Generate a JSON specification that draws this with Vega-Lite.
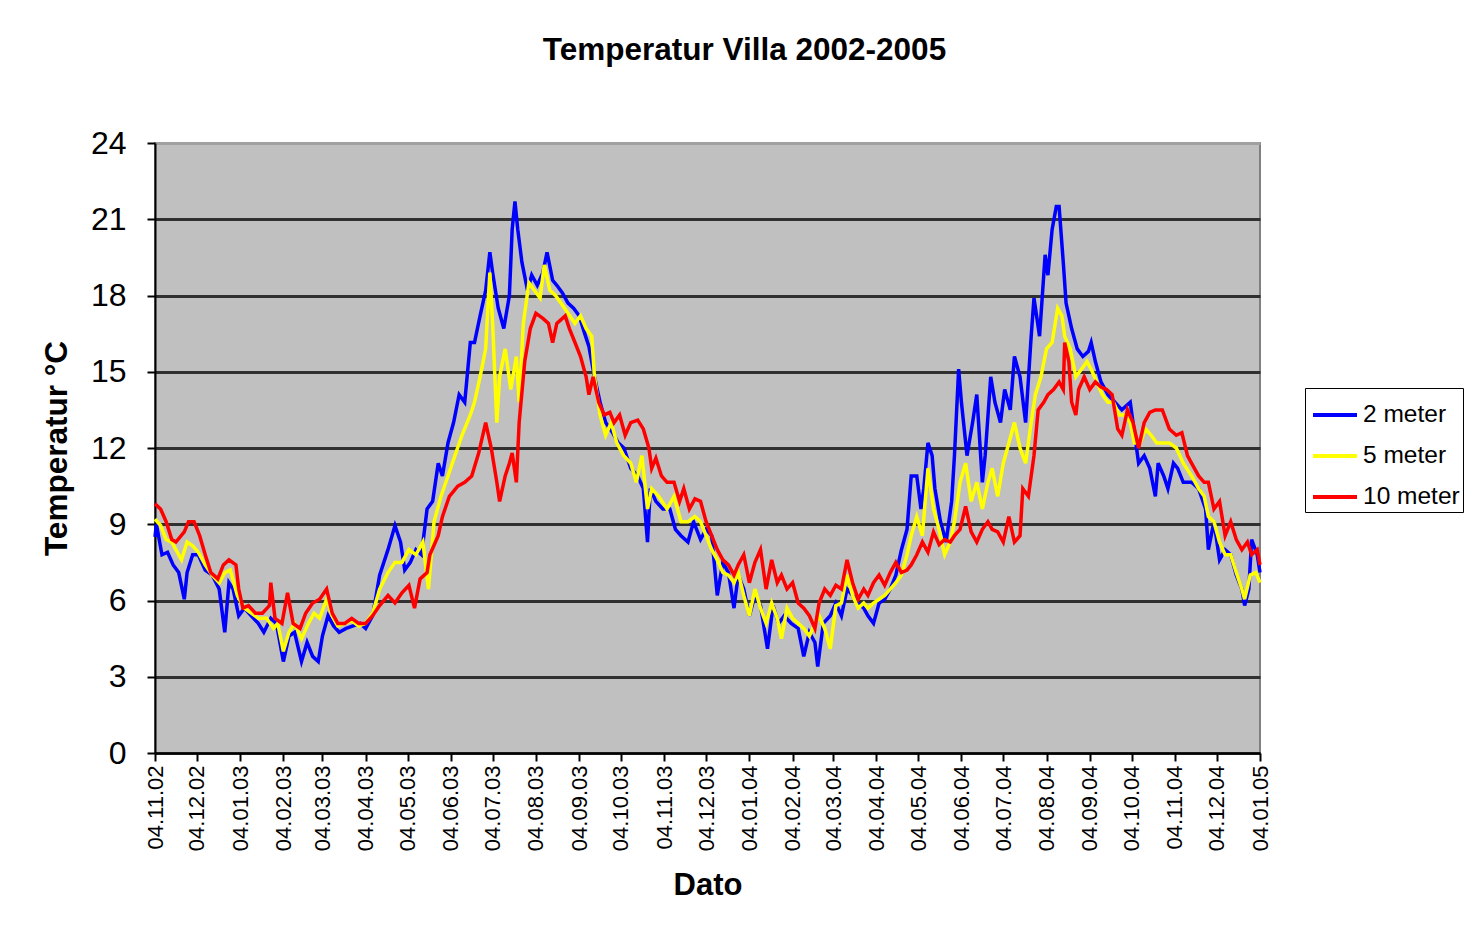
{
"$schema":"https://vega.github.io/schema/vega-lite/v6.json",
"autosize":{"type":"none"},
"width":1105,"height":610,
"padding":{"left":155,"top":143,"right":219,"bottom":180},
"background":"white",
"config":{"font":"Liberation Sans","view":{"fill":"#C0C0C0","stroke":"#808080","strokeWidth":2}},
"title":{"text":"Temperatur Villa 2002-2005","fontSize":31.5,"font":"Liberation Sans","fontWeight":"bold","color":"black","offset":61,"dx":37},
"data":{"values":[
{"d":"2002-11-04","s":"2 meter","t":8.5},{"d":"2002-11-05","s":"2 meter","t":9.0},{"d":"2002-11-09","s":"2 meter","t":7.8},{"d":"2002-11-13","s":"2 meter","t":7.9},{"d":"2002-11-17","s":"2 meter","t":7.4},{"d":"2002-11-21","s":"2 meter","t":7.1},{"d":"2002-11-25","s":"2 meter","t":6.05},{"d":"2002-11-27","s":"2 meter","t":7.1},{"d":"2002-12-01","s":"2 meter","t":7.8},{"d":"2002-12-05","s":"2 meter","t":7.8},{"d":"2002-12-10","s":"2 meter","t":7.2},{"d":"2002-12-15","s":"2 meter","t":7.0},{"d":"2002-12-20","s":"2 meter","t":6.45},{"d":"2002-12-24","s":"2 meter","t":4.75},{"d":"2002-12-27","s":"2 meter","t":6.7},{"d":"2002-12-30","s":"2 meter","t":6.45},
{"d":"2003-01-03","s":"2 meter","t":5.4},{"d":"2003-01-07","s":"2 meter","t":5.7},{"d":"2003-01-12","s":"2 meter","t":5.4},{"d":"2003-01-17","s":"2 meter","t":5.1},{"d":"2003-01-21","s":"2 meter","t":4.75},{"d":"2003-01-26","s":"2 meter","t":5.3},{"d":"2003-01-30","s":"2 meter","t":5.1},{"d":"2003-02-04","s":"2 meter","t":3.6},{"d":"2003-02-08","s":"2 meter","t":4.6},{"d":"2003-02-12","s":"2 meter","t":4.75},{"d":"2003-02-17","s":"2 meter","t":3.6},{"d":"2003-02-21","s":"2 meter","t":4.35},{"d":"2003-02-25","s":"2 meter","t":3.8},{"d":"2003-03-01","s":"2 meter","t":3.6},{"d":"2003-03-04","s":"2 meter","t":4.6},{"d":"2003-03-08","s":"2 meter","t":5.4},{"d":"2003-03-12","s":"2 meter","t":5.0},{"d":"2003-03-16","s":"2 meter","t":4.75},{"d":"2003-03-21","s":"2 meter","t":4.9},{"d":"2003-03-26","s":"2 meter","t":5.0},{"d":"2003-03-31","s":"2 meter","t":5.1},
{"d":"2003-04-04","s":"2 meter","t":4.9},{"d":"2003-04-09","s":"2 meter","t":5.4},{"d":"2003-04-14","s":"2 meter","t":7.0},{"d":"2003-04-20","s":"2 meter","t":8.0},{"d":"2003-04-25","s":"2 meter","t":8.95},{"d":"2003-04-29","s":"2 meter","t":8.3},{"d":"2003-05-02","s":"2 meter","t":7.2},{"d":"2003-05-06","s":"2 meter","t":7.5},{"d":"2003-05-10","s":"2 meter","t":8.0},{"d":"2003-05-14","s":"2 meter","t":7.8},{"d":"2003-05-18","s":"2 meter","t":9.6},{"d":"2003-05-22","s":"2 meter","t":9.9},{"d":"2003-05-26","s":"2 meter","t":11.4},{"d":"2003-05-29","s":"2 meter","t":10.9},{"d":"2003-06-02","s":"2 meter","t":12.2},{"d":"2003-06-06","s":"2 meter","t":13.0},{"d":"2003-06-10","s":"2 meter","t":14.1},{"d":"2003-06-14","s":"2 meter","t":13.8},{"d":"2003-06-18","s":"2 meter","t":16.15},{"d":"2003-06-21","s":"2 meter","t":16.15},{"d":"2003-06-25","s":"2 meter","t":17.2},{"d":"2003-06-29","s":"2 meter","t":18.2},
{"d":"2003-07-02","s":"2 meter","t":19.7},{"d":"2003-07-04","s":"2 meter","t":18.9},{"d":"2003-07-08","s":"2 meter","t":17.5},{"d":"2003-07-12","s":"2 meter","t":16.7},{"d":"2003-07-16","s":"2 meter","t":18.0},{"d":"2003-07-18","s":"2 meter","t":20.6},{"d":"2003-07-20","s":"2 meter","t":21.7},{"d":"2003-07-22","s":"2 meter","t":20.6},{"d":"2003-07-25","s":"2 meter","t":19.3},{"d":"2003-07-29","s":"2 meter","t":18.2},{"d":"2003-08-01","s":"2 meter","t":18.8},{"d":"2003-08-05","s":"2 meter","t":18.4},{"d":"2003-08-09","s":"2 meter","t":18.9},{"d":"2003-08-12","s":"2 meter","t":19.7},{"d":"2003-08-16","s":"2 meter","t":18.6},{"d":"2003-08-19","s":"2 meter","t":18.4},{"d":"2003-08-23","s":"2 meter","t":18.1},{"d":"2003-08-27","s":"2 meter","t":17.7},{"d":"2003-08-31","s":"2 meter","t":17.5},
{"d":"2003-09-04","s":"2 meter","t":17.2},{"d":"2003-09-08","s":"2 meter","t":16.5},{"d":"2003-09-11","s":"2 meter","t":16.0},{"d":"2003-09-15","s":"2 meter","t":14.8},{"d":"2003-09-19","s":"2 meter","t":13.8},{"d":"2003-09-23","s":"2 meter","t":13.0},{"d":"2003-09-28","s":"2 meter","t":12.6},{"d":"2003-10-02","s":"2 meter","t":12.2},{"d":"2003-10-06","s":"2 meter","t":12.0},{"d":"2003-10-11","s":"2 meter","t":11.2},{"d":"2003-10-16","s":"2 meter","t":10.9},{"d":"2003-10-20","s":"2 meter","t":10.4},{"d":"2003-10-23","s":"2 meter","t":8.3},{"d":"2003-10-25","s":"2 meter","t":10.4},{"d":"2003-10-29","s":"2 meter","t":9.9},{"d":"2003-11-03","s":"2 meter","t":9.6},{"d":"2003-11-08","s":"2 meter","t":9.6},{"d":"2003-11-12","s":"2 meter","t":8.8},{"d":"2003-11-16","s":"2 meter","t":8.55},{"d":"2003-11-21","s":"2 meter","t":8.3},{"d":"2003-11-25","s":"2 meter","t":9.1},{"d":"2003-11-30","s":"2 meter","t":8.4},
{"d":"2003-12-04","s":"2 meter","t":8.8},{"d":"2003-12-08","s":"2 meter","t":8.55},{"d":"2003-12-12","s":"2 meter","t":6.2},{"d":"2003-12-16","s":"2 meter","t":7.5},{"d":"2003-12-20","s":"2 meter","t":7.1},{"d":"2003-12-24","s":"2 meter","t":5.7},{"d":"2003-12-27","s":"2 meter","t":7.0},{"d":"2003-12-31","s":"2 meter","t":6.45},{"d":"2004-01-04","s":"2 meter","t":5.4},{"d":"2004-01-08","s":"2 meter","t":6.2},{"d":"2004-01-12","s":"2 meter","t":5.8},{"d":"2004-01-17","s":"2 meter","t":4.1},{"d":"2004-01-21","s":"2 meter","t":5.8},{"d":"2004-01-25","s":"2 meter","t":5.1},{"d":"2004-01-29","s":"2 meter","t":5.4},{"d":"2004-02-03","s":"2 meter","t":5.1},{"d":"2004-02-08","s":"2 meter","t":4.9},{"d":"2004-02-12","s":"2 meter","t":3.8},{"d":"2004-02-16","s":"2 meter","t":4.75},{"d":"2004-02-20","s":"2 meter","t":4.35},{"d":"2004-02-22","s":"2 meter","t":3.4},{"d":"2004-02-26","s":"2 meter","t":5.1},
{"d":"2004-03-02","s":"2 meter","t":5.4},{"d":"2004-03-06","s":"2 meter","t":5.9},{"d":"2004-03-10","s":"2 meter","t":5.4},{"d":"2004-03-14","s":"2 meter","t":6.45},{"d":"2004-03-18","s":"2 meter","t":6.2},{"d":"2004-03-22","s":"2 meter","t":5.9},{"d":"2004-03-26","s":"2 meter","t":5.7},{"d":"2004-03-29","s":"2 meter","t":5.4},{"d":"2004-04-02","s":"2 meter","t":5.1},{"d":"2004-04-06","s":"2 meter","t":5.9},{"d":"2004-04-10","s":"2 meter","t":6.05},{"d":"2004-04-14","s":"2 meter","t":6.45},{"d":"2004-04-18","s":"2 meter","t":7.0},{"d":"2004-04-22","s":"2 meter","t":8.0},{"d":"2004-04-26","s":"2 meter","t":8.8},{"d":"2004-04-29","s":"2 meter","t":10.9},{"d":"2004-05-03","s":"2 meter","t":10.9},{"d":"2004-05-06","s":"2 meter","t":9.6},{"d":"2004-05-08","s":"2 meter","t":10.4},{"d":"2004-05-11","s":"2 meter","t":12.2},{"d":"2004-05-14","s":"2 meter","t":11.7},{"d":"2004-05-16","s":"2 meter","t":10.4},{"d":"2004-05-20","s":"2 meter","t":9.1},{"d":"2004-05-24","s":"2 meter","t":8.3},{"d":"2004-05-28","s":"2 meter","t":9.9},{"d":"2004-05-30","s":"2 meter","t":11.7},
{"d":"2004-06-02","s":"2 meter","t":15.1},{"d":"2004-06-04","s":"2 meter","t":13.8},{"d":"2004-06-08","s":"2 meter","t":11.7},{"d":"2004-06-12","s":"2 meter","t":13.0},{"d":"2004-06-15","s":"2 meter","t":14.1},{"d":"2004-06-19","s":"2 meter","t":10.65},{"d":"2004-06-21","s":"2 meter","t":11.7},{"d":"2004-06-25","s":"2 meter","t":14.8},{"d":"2004-06-28","s":"2 meter","t":13.8},{"d":"2004-07-02","s":"2 meter","t":13.0},{"d":"2004-07-05","s":"2 meter","t":14.3},{"d":"2004-07-09","s":"2 meter","t":13.5},{"d":"2004-07-12","s":"2 meter","t":15.6},{"d":"2004-07-16","s":"2 meter","t":14.8},{"d":"2004-07-20","s":"2 meter","t":13.0},{"d":"2004-07-24","s":"2 meter","t":16.4},{"d":"2004-07-26","s":"2 meter","t":17.9},{"d":"2004-07-30","s":"2 meter","t":16.4},{"d":"2004-08-03","s":"2 meter","t":19.6},{"d":"2004-08-05","s":"2 meter","t":18.8},{"d":"2004-08-08","s":"2 meter","t":20.6},{"d":"2004-08-11","s":"2 meter","t":21.5},{"d":"2004-08-13","s":"2 meter","t":21.5},{"d":"2004-08-16","s":"2 meter","t":19.3},{"d":"2004-08-18","s":"2 meter","t":17.7},{"d":"2004-08-22","s":"2 meter","t":16.7},{"d":"2004-08-26","s":"2 meter","t":15.9},{"d":"2004-08-30","s":"2 meter","t":15.6},
{"d":"2004-09-03","s":"2 meter","t":15.8},{"d":"2004-09-05","s":"2 meter","t":16.15},{"d":"2004-09-08","s":"2 meter","t":15.4},{"d":"2004-09-12","s":"2 meter","t":14.6},{"d":"2004-09-17","s":"2 meter","t":14.1},{"d":"2004-09-22","s":"2 meter","t":13.8},{"d":"2004-09-27","s":"2 meter","t":13.5},{"d":"2004-10-03","s":"2 meter","t":13.8},{"d":"2004-10-05","s":"2 meter","t":13.0},{"d":"2004-10-09","s":"2 meter","t":11.4},{"d":"2004-10-13","s":"2 meter","t":11.7},{"d":"2004-10-17","s":"2 meter","t":11.2},{"d":"2004-10-21","s":"2 meter","t":10.1},{"d":"2004-10-23","s":"2 meter","t":11.4},{"d":"2004-10-27","s":"2 meter","t":10.9},{"d":"2004-10-30","s":"2 meter","t":10.4},{"d":"2004-11-03","s":"2 meter","t":11.4},{"d":"2004-11-06","s":"2 meter","t":11.2},{"d":"2004-11-10","s":"2 meter","t":10.65},{"d":"2004-11-16","s":"2 meter","t":10.65},{"d":"2004-11-21","s":"2 meter","t":10.4},{"d":"2004-11-26","s":"2 meter","t":9.6},{"d":"2004-11-28","s":"2 meter","t":8.0},{"d":"2004-12-02","s":"2 meter","t":9.1},{"d":"2004-12-06","s":"2 meter","t":7.6},{"d":"2004-12-10","s":"2 meter","t":8.0},{"d":"2004-12-14","s":"2 meter","t":7.8},{"d":"2004-12-18","s":"2 meter","t":7.0},{"d":"2004-12-22","s":"2 meter","t":6.45},{"d":"2004-12-24","s":"2 meter","t":5.8},{"d":"2004-12-27","s":"2 meter","t":6.45},{"d":"2004-12-29","s":"2 meter","t":8.4},{"d":"2005-01-02","s":"2 meter","t":7.8},{"d":"2005-01-04","s":"2 meter","t":7.1},

{"d":"2002-11-04","s":"5 meter","t":9.2},{"d":"2002-11-08","s":"5 meter","t":8.95},{"d":"2002-11-12","s":"5 meter","t":8.4},{"d":"2002-11-16","s":"5 meter","t":8.3},{"d":"2002-11-19","s":"5 meter","t":8.0},{"d":"2002-11-23","s":"5 meter","t":7.6},{"d":"2002-11-27","s":"5 meter","t":8.3},{"d":"2002-12-01","s":"5 meter","t":8.15},{"d":"2002-12-05","s":"5 meter","t":7.9},{"d":"2002-12-10","s":"5 meter","t":7.4},{"d":"2002-12-15","s":"5 meter","t":7.0},{"d":"2002-12-20","s":"5 meter","t":6.7},{"d":"2002-12-24","s":"5 meter","t":7.1},{"d":"2002-12-28","s":"5 meter","t":7.2},
{"d":"2003-01-02","s":"5 meter","t":6.2},{"d":"2003-01-07","s":"5 meter","t":5.7},{"d":"2003-01-12","s":"5 meter","t":5.5},{"d":"2003-01-17","s":"5 meter","t":5.3},{"d":"2003-01-23","s":"5 meter","t":5.3},{"d":"2003-01-28","s":"5 meter","t":4.9},{"d":"2003-01-31","s":"5 meter","t":5.1},{"d":"2003-02-04","s":"5 meter","t":4.0},{"d":"2003-02-08","s":"5 meter","t":4.75},{"d":"2003-02-12","s":"5 meter","t":5.1},{"d":"2003-02-17","s":"5 meter","t":4.5},{"d":"2003-02-22","s":"5 meter","t":5.1},{"d":"2003-02-26","s":"5 meter","t":5.5},{"d":"2003-03-02","s":"5 meter","t":5.3},{"d":"2003-03-07","s":"5 meter","t":6.05},{"d":"2003-03-11","s":"5 meter","t":5.4},{"d":"2003-03-15","s":"5 meter","t":5.0},{"d":"2003-03-20","s":"5 meter","t":5.1},{"d":"2003-03-25","s":"5 meter","t":5.2},{"d":"2003-03-30","s":"5 meter","t":5.0},
{"d":"2003-04-04","s":"5 meter","t":5.1},{"d":"2003-04-09","s":"5 meter","t":5.5},{"d":"2003-04-14","s":"5 meter","t":6.45},{"d":"2003-04-20","s":"5 meter","t":7.1},{"d":"2003-04-25","s":"5 meter","t":7.5},{"d":"2003-04-30","s":"5 meter","t":7.5},{"d":"2003-05-05","s":"5 meter","t":8.0},{"d":"2003-05-10","s":"5 meter","t":7.8},{"d":"2003-05-15","s":"5 meter","t":8.3},{"d":"2003-05-19","s":"5 meter","t":6.45},{"d":"2003-05-23","s":"5 meter","t":9.1},{"d":"2003-05-28","s":"5 meter","t":10.1},{"d":"2003-06-02","s":"5 meter","t":10.9},{"d":"2003-06-07","s":"5 meter","t":11.7},{"d":"2003-06-12","s":"5 meter","t":12.5},{"d":"2003-06-18","s":"5 meter","t":13.3},{"d":"2003-06-21","s":"5 meter","t":13.8},{"d":"2003-06-25","s":"5 meter","t":14.8},{"d":"2003-06-29","s":"5 meter","t":15.9},
{"d":"2003-07-02","s":"5 meter","t":18.9},{"d":"2003-07-04","s":"5 meter","t":16.9},{"d":"2003-07-07","s":"5 meter","t":13.0},{"d":"2003-07-09","s":"5 meter","t":14.8},{"d":"2003-07-13","s":"5 meter","t":15.9},{"d":"2003-07-17","s":"5 meter","t":14.3},{"d":"2003-07-21","s":"5 meter","t":15.6},{"d":"2003-07-23","s":"5 meter","t":13.8},{"d":"2003-07-26","s":"5 meter","t":16.9},{"d":"2003-07-30","s":"5 meter","t":18.5},{"d":"2003-08-03","s":"5 meter","t":18.2},{"d":"2003-08-07","s":"5 meter","t":17.9},{"d":"2003-08-10","s":"5 meter","t":19.2},{"d":"2003-08-14","s":"5 meter","t":18.2},{"d":"2003-08-18","s":"5 meter","t":18.0},{"d":"2003-08-22","s":"5 meter","t":17.7},{"d":"2003-08-27","s":"5 meter","t":17.3},
{"d":"2003-09-01","s":"5 meter","t":16.9},{"d":"2003-09-05","s":"5 meter","t":17.2},{"d":"2003-09-09","s":"5 meter","t":16.7},{"d":"2003-09-13","s":"5 meter","t":16.4},{"d":"2003-09-15","s":"5 meter","t":14.8},{"d":"2003-09-19","s":"5 meter","t":13.3},{"d":"2003-09-23","s":"5 meter","t":12.5},{"d":"2003-09-27","s":"5 meter","t":13.0},{"d":"2003-10-01","s":"5 meter","t":12.2},{"d":"2003-10-06","s":"5 meter","t":11.7},{"d":"2003-10-11","s":"5 meter","t":11.4},{"d":"2003-10-15","s":"5 meter","t":10.65},{"d":"2003-10-19","s":"5 meter","t":11.7},{"d":"2003-10-23","s":"5 meter","t":9.6},{"d":"2003-10-26","s":"5 meter","t":10.4},{"d":"2003-10-31","s":"5 meter","t":10.1},{"d":"2003-11-06","s":"5 meter","t":9.6},{"d":"2003-11-11","s":"5 meter","t":10.1},{"d":"2003-11-16","s":"5 meter","t":9.1},{"d":"2003-11-21","s":"5 meter","t":9.1},{"d":"2003-11-26","s":"5 meter","t":9.3},{"d":"2003-11-30","s":"5 meter","t":9.1},
{"d":"2003-12-04","s":"5 meter","t":8.55},{"d":"2003-12-08","s":"5 meter","t":8.0},{"d":"2003-12-12","s":"5 meter","t":7.6},{"d":"2003-12-16","s":"5 meter","t":7.1},{"d":"2003-12-20","s":"5 meter","t":7.0},{"d":"2003-12-24","s":"5 meter","t":6.7},{"d":"2003-12-27","s":"5 meter","t":7.1},{"d":"2003-12-31","s":"5 meter","t":6.2},{"d":"2004-01-04","s":"5 meter","t":5.4},{"d":"2004-01-08","s":"5 meter","t":6.45},{"d":"2004-01-12","s":"5 meter","t":5.7},{"d":"2004-01-16","s":"5 meter","t":5.1},{"d":"2004-01-20","s":"5 meter","t":5.9},{"d":"2004-01-24","s":"5 meter","t":5.3},{"d":"2004-01-27","s":"5 meter","t":4.5},{"d":"2004-01-31","s":"5 meter","t":5.7},{"d":"2004-02-04","s":"5 meter","t":5.3},{"d":"2004-02-08","s":"5 meter","t":5.1},{"d":"2004-02-12","s":"5 meter","t":4.9},{"d":"2004-02-16","s":"5 meter","t":4.6},{"d":"2004-02-20","s":"5 meter","t":5.1},{"d":"2004-02-23","s":"5 meter","t":5.4},{"d":"2004-02-27","s":"5 meter","t":4.9},
{"d":"2004-03-02","s":"5 meter","t":4.1},{"d":"2004-03-06","s":"5 meter","t":5.8},{"d":"2004-03-10","s":"5 meter","t":5.9},{"d":"2004-03-14","s":"5 meter","t":7.0},{"d":"2004-03-18","s":"5 meter","t":6.2},{"d":"2004-03-22","s":"5 meter","t":5.7},{"d":"2004-03-26","s":"5 meter","t":5.9},{"d":"2004-03-29","s":"5 meter","t":5.7},{"d":"2004-04-02","s":"5 meter","t":5.9},{"d":"2004-04-06","s":"5 meter","t":6.05},{"d":"2004-04-10","s":"5 meter","t":6.2},{"d":"2004-04-14","s":"5 meter","t":6.45},{"d":"2004-04-18","s":"5 meter","t":6.7},{"d":"2004-04-22","s":"5 meter","t":7.0},{"d":"2004-04-26","s":"5 meter","t":7.8},{"d":"2004-04-29","s":"5 meter","t":8.55},{"d":"2004-05-03","s":"5 meter","t":9.3},{"d":"2004-05-07","s":"5 meter","t":8.55},{"d":"2004-05-11","s":"5 meter","t":11.2},{"d":"2004-05-15","s":"5 meter","t":9.6},{"d":"2004-05-19","s":"5 meter","t":8.8},{"d":"2004-05-23","s":"5 meter","t":7.8},{"d":"2004-05-27","s":"5 meter","t":8.3},{"d":"2004-05-30","s":"5 meter","t":9.1},
{"d":"2004-06-03","s":"5 meter","t":10.65},{"d":"2004-06-07","s":"5 meter","t":11.4},{"d":"2004-06-11","s":"5 meter","t":9.9},{"d":"2004-06-15","s":"5 meter","t":10.65},{"d":"2004-06-19","s":"5 meter","t":9.6},{"d":"2004-06-23","s":"5 meter","t":10.65},{"d":"2004-06-26","s":"5 meter","t":11.2},{"d":"2004-06-30","s":"5 meter","t":10.1},{"d":"2004-07-04","s":"5 meter","t":11.4},{"d":"2004-07-08","s":"5 meter","t":12.2},{"d":"2004-07-12","s":"5 meter","t":13.0},{"d":"2004-07-16","s":"5 meter","t":12.0},{"d":"2004-07-20","s":"5 meter","t":11.4},{"d":"2004-07-24","s":"5 meter","t":13.0},{"d":"2004-07-27","s":"5 meter","t":14.1},{"d":"2004-07-31","s":"5 meter","t":14.8},{"d":"2004-08-04","s":"5 meter","t":15.9},{"d":"2004-08-08","s":"5 meter","t":16.15},{"d":"2004-08-12","s":"5 meter","t":17.5},{"d":"2004-08-15","s":"5 meter","t":17.2},{"d":"2004-08-17","s":"5 meter","t":16.4},{"d":"2004-08-21","s":"5 meter","t":15.9},{"d":"2004-08-25","s":"5 meter","t":14.8},{"d":"2004-08-29","s":"5 meter","t":15.1},
{"d":"2004-09-02","s":"5 meter","t":15.4},{"d":"2004-09-05","s":"5 meter","t":15.1},{"d":"2004-09-09","s":"5 meter","t":14.6},{"d":"2004-09-13","s":"5 meter","t":14.1},{"d":"2004-09-17","s":"5 meter","t":13.8},{"d":"2004-09-21","s":"5 meter","t":13.8},{"d":"2004-09-25","s":"5 meter","t":13.3},{"d":"2004-09-29","s":"5 meter","t":13.3},{"d":"2004-10-03","s":"5 meter","t":13.0},{"d":"2004-10-06","s":"5 meter","t":12.2},{"d":"2004-10-10","s":"5 meter","t":12.2},{"d":"2004-10-14","s":"5 meter","t":12.75},{"d":"2004-10-18","s":"5 meter","t":12.5},{"d":"2004-10-22","s":"5 meter","t":12.2},{"d":"2004-10-26","s":"5 meter","t":12.2},{"d":"2004-10-31","s":"5 meter","t":12.2},{"d":"2004-11-05","s":"5 meter","t":12.0},{"d":"2004-11-10","s":"5 meter","t":11.4},{"d":"2004-11-16","s":"5 meter","t":10.9},{"d":"2004-11-21","s":"5 meter","t":10.4},{"d":"2004-11-25","s":"5 meter","t":10.1},{"d":"2004-11-28","s":"5 meter","t":9.3},{"d":"2004-12-02","s":"5 meter","t":9.1},{"d":"2004-12-06","s":"5 meter","t":8.3},{"d":"2004-12-10","s":"5 meter","t":7.8},{"d":"2004-12-14","s":"5 meter","t":7.8},{"d":"2004-12-18","s":"5 meter","t":7.1},{"d":"2004-12-22","s":"5 meter","t":6.45},{"d":"2004-12-24","s":"5 meter","t":6.05},{"d":"2004-12-28","s":"5 meter","t":7.0},{"d":"2005-01-01","s":"5 meter","t":7.1},{"d":"2005-01-04","s":"5 meter","t":6.7},

{"d":"2002-11-04","s":"10 meter","t":9.8},{"d":"2002-11-08","s":"10 meter","t":9.6},{"d":"2002-11-12","s":"10 meter","t":9.1},{"d":"2002-11-16","s":"10 meter","t":8.4},{"d":"2002-11-19","s":"10 meter","t":8.3},{"d":"2002-11-25","s":"10 meter","t":8.7},{"d":"2002-11-28","s":"10 meter","t":9.1},{"d":"2002-12-02","s":"10 meter","t":9.1},{"d":"2002-12-06","s":"10 meter","t":8.55},{"d":"2002-12-10","s":"10 meter","t":7.8},{"d":"2002-12-14","s":"10 meter","t":7.1},{"d":"2002-12-19","s":"10 meter","t":6.85},{"d":"2002-12-23","s":"10 meter","t":7.4},{"d":"2002-12-27","s":"10 meter","t":7.6},
{"d":"2003-01-01","s":"10 meter","t":7.4},{"d":"2003-01-03","s":"10 meter","t":6.45},{"d":"2003-01-06","s":"10 meter","t":5.7},{"d":"2003-01-10","s":"10 meter","t":5.8},{"d":"2003-01-15","s":"10 meter","t":5.5},{"d":"2003-01-20","s":"10 meter","t":5.5},{"d":"2003-01-25","s":"10 meter","t":5.8},{"d":"2003-01-26","s":"10 meter","t":6.7},{"d":"2003-01-29","s":"10 meter","t":5.3},{"d":"2003-02-03","s":"10 meter","t":5.1},{"d":"2003-02-07","s":"10 meter","t":6.3},{"d":"2003-02-11","s":"10 meter","t":5.1},{"d":"2003-02-16","s":"10 meter","t":4.9},{"d":"2003-02-20","s":"10 meter","t":5.5},{"d":"2003-02-25","s":"10 meter","t":5.9},{"d":"2003-03-02","s":"10 meter","t":6.05},{"d":"2003-03-07","s":"10 meter","t":6.45},{"d":"2003-03-11","s":"10 meter","t":5.5},{"d":"2003-03-15","s":"10 meter","t":5.1},{"d":"2003-03-20","s":"10 meter","t":5.1},{"d":"2003-03-25","s":"10 meter","t":5.3},{"d":"2003-03-30","s":"10 meter","t":5.1},
{"d":"2003-04-04","s":"10 meter","t":5.1},{"d":"2003-04-09","s":"10 meter","t":5.4},{"d":"2003-04-14","s":"10 meter","t":5.8},{"d":"2003-04-20","s":"10 meter","t":6.2},{"d":"2003-04-25","s":"10 meter","t":5.9},{"d":"2003-04-30","s":"10 meter","t":6.3},{"d":"2003-05-05","s":"10 meter","t":6.6},{"d":"2003-05-09","s":"10 meter","t":5.7},{"d":"2003-05-13","s":"10 meter","t":6.85},{"d":"2003-05-18","s":"10 meter","t":7.1},{"d":"2003-05-20","s":"10 meter","t":7.8},{"d":"2003-05-26","s":"10 meter","t":8.55},{"d":"2003-05-29","s":"10 meter","t":9.3},{"d":"2003-06-03","s":"10 meter","t":10.1},{"d":"2003-06-09","s":"10 meter","t":10.5},{"d":"2003-06-14","s":"10 meter","t":10.65},{"d":"2003-06-19","s":"10 meter","t":10.9},{"d":"2003-06-24","s":"10 meter","t":11.8},{"d":"2003-06-29","s":"10 meter","t":13.0},
{"d":"2003-07-03","s":"10 meter","t":12.0},{"d":"2003-07-07","s":"10 meter","t":10.65},{"d":"2003-07-09","s":"10 meter","t":9.9},{"d":"2003-07-13","s":"10 meter","t":10.9},{"d":"2003-07-16","s":"10 meter","t":11.4},{"d":"2003-07-18","s":"10 meter","t":11.8},{"d":"2003-07-21","s":"10 meter","t":10.65},{"d":"2003-07-23","s":"10 meter","t":13.0},{"d":"2003-07-27","s":"10 meter","t":15.4},{"d":"2003-07-31","s":"10 meter","t":16.7},{"d":"2003-08-04","s":"10 meter","t":17.3},{"d":"2003-08-09","s":"10 meter","t":17.1},{"d":"2003-08-13","s":"10 meter","t":16.9},{"d":"2003-08-16","s":"10 meter","t":16.15},{"d":"2003-08-19","s":"10 meter","t":16.9},{"d":"2003-08-25","s":"10 meter","t":17.2},{"d":"2003-08-28","s":"10 meter","t":16.7},
{"d":"2003-09-01","s":"10 meter","t":16.15},{"d":"2003-09-05","s":"10 meter","t":15.6},{"d":"2003-09-09","s":"10 meter","t":14.8},{"d":"2003-09-11","s":"10 meter","t":14.1},{"d":"2003-09-14","s":"10 meter","t":14.8},{"d":"2003-09-18","s":"10 meter","t":13.8},{"d":"2003-09-22","s":"10 meter","t":13.3},{"d":"2003-09-26","s":"10 meter","t":13.4},{"d":"2003-09-29","s":"10 meter","t":13.0},{"d":"2003-10-03","s":"10 meter","t":13.3},{"d":"2003-10-07","s":"10 meter","t":12.5},{"d":"2003-10-11","s":"10 meter","t":13.0},{"d":"2003-10-16","s":"10 meter","t":13.1},{"d":"2003-10-20","s":"10 meter","t":12.75},{"d":"2003-10-24","s":"10 meter","t":12.0},{"d":"2003-10-26","s":"10 meter","t":11.2},{"d":"2003-10-29","s":"10 meter","t":11.6},{"d":"2003-11-02","s":"10 meter","t":10.9},{"d":"2003-11-06","s":"10 meter","t":10.65},{"d":"2003-11-11","s":"10 meter","t":10.65},{"d":"2003-11-15","s":"10 meter","t":9.9},{"d":"2003-11-18","s":"10 meter","t":10.4},{"d":"2003-11-22","s":"10 meter","t":9.6},{"d":"2003-11-26","s":"10 meter","t":10.0},{"d":"2003-11-30","s":"10 meter","t":9.9},
{"d":"2003-12-04","s":"10 meter","t":9.1},{"d":"2003-12-08","s":"10 meter","t":8.55},{"d":"2003-12-12","s":"10 meter","t":8.0},{"d":"2003-12-16","s":"10 meter","t":7.6},{"d":"2003-12-20","s":"10 meter","t":7.4},{"d":"2003-12-24","s":"10 meter","t":7.0},{"d":"2003-12-27","s":"10 meter","t":7.4},{"d":"2003-12-31","s":"10 meter","t":7.8},{"d":"2004-01-04","s":"10 meter","t":6.7},{"d":"2004-01-08","s":"10 meter","t":7.5},{"d":"2004-01-12","s":"10 meter","t":8.0},{"d":"2004-01-16","s":"10 meter","t":6.45},{"d":"2004-01-20","s":"10 meter","t":7.6},{"d":"2004-01-24","s":"10 meter","t":6.7},{"d":"2004-01-27","s":"10 meter","t":7.0},{"d":"2004-01-31","s":"10 meter","t":6.45},{"d":"2004-02-04","s":"10 meter","t":6.7},{"d":"2004-02-08","s":"10 meter","t":5.9},{"d":"2004-02-12","s":"10 meter","t":5.7},{"d":"2004-02-16","s":"10 meter","t":5.4},{"d":"2004-02-20","s":"10 meter","t":4.9},{"d":"2004-02-23","s":"10 meter","t":5.9},{"d":"2004-02-27","s":"10 meter","t":6.45},
{"d":"2004-03-02","s":"10 meter","t":6.2},{"d":"2004-03-06","s":"10 meter","t":6.6},{"d":"2004-03-10","s":"10 meter","t":6.45},{"d":"2004-03-14","s":"10 meter","t":7.6},{"d":"2004-03-18","s":"10 meter","t":6.7},{"d":"2004-03-22","s":"10 meter","t":6.05},{"d":"2004-03-26","s":"10 meter","t":6.45},{"d":"2004-03-29","s":"10 meter","t":6.2},{"d":"2004-04-02","s":"10 meter","t":6.7},{"d":"2004-04-06","s":"10 meter","t":7.0},{"d":"2004-04-10","s":"10 meter","t":6.6},{"d":"2004-04-14","s":"10 meter","t":7.1},{"d":"2004-04-18","s":"10 meter","t":7.5},{"d":"2004-04-22","s":"10 meter","t":7.1},{"d":"2004-04-26","s":"10 meter","t":7.2},{"d":"2004-04-29","s":"10 meter","t":7.4},{"d":"2004-05-03","s":"10 meter","t":7.8},{"d":"2004-05-07","s":"10 meter","t":8.3},{"d":"2004-05-11","s":"10 meter","t":7.9},{"d":"2004-05-15","s":"10 meter","t":8.7},{"d":"2004-05-19","s":"10 meter","t":8.2},{"d":"2004-05-23","s":"10 meter","t":8.4},{"d":"2004-05-27","s":"10 meter","t":8.3},{"d":"2004-05-30","s":"10 meter","t":8.55},
{"d":"2004-06-03","s":"10 meter","t":8.8},{"d":"2004-06-07","s":"10 meter","t":9.7},{"d":"2004-06-11","s":"10 meter","t":8.7},{"d":"2004-06-15","s":"10 meter","t":8.3},{"d":"2004-06-19","s":"10 meter","t":8.8},{"d":"2004-06-23","s":"10 meter","t":9.1},{"d":"2004-06-26","s":"10 meter","t":8.8},{"d":"2004-06-30","s":"10 meter","t":8.7},{"d":"2004-07-04","s":"10 meter","t":8.3},{"d":"2004-07-08","s":"10 meter","t":9.3},{"d":"2004-07-12","s":"10 meter","t":8.3},{"d":"2004-07-16","s":"10 meter","t":8.55},{"d":"2004-07-18","s":"10 meter","t":10.4},{"d":"2004-07-22","s":"10 meter","t":10.1},{"d":"2004-07-26","s":"10 meter","t":11.7},{"d":"2004-07-29","s":"10 meter","t":13.5},{"d":"2004-08-02","s":"10 meter","t":13.8},{"d":"2004-08-05","s":"10 meter","t":14.1},{"d":"2004-08-09","s":"10 meter","t":14.3},{"d":"2004-08-13","s":"10 meter","t":14.6},{"d":"2004-08-16","s":"10 meter","t":14.3},{"d":"2004-08-17","s":"10 meter","t":16.15},{"d":"2004-08-20","s":"10 meter","t":15.4},{"d":"2004-08-22","s":"10 meter","t":13.8},{"d":"2004-08-25","s":"10 meter","t":13.3},{"d":"2004-08-27","s":"10 meter","t":14.3},{"d":"2004-08-31","s":"10 meter","t":14.8},
{"d":"2004-09-04","s":"10 meter","t":14.3},{"d":"2004-09-08","s":"10 meter","t":14.6},{"d":"2004-09-12","s":"10 meter","t":14.4},{"d":"2004-09-16","s":"10 meter","t":14.3},{"d":"2004-09-20","s":"10 meter","t":14.1},{"d":"2004-09-24","s":"10 meter","t":12.75},{"d":"2004-09-27","s":"10 meter","t":12.5},{"d":"2004-10-01","s":"10 meter","t":13.5},{"d":"2004-10-05","s":"10 meter","t":13.0},{"d":"2004-10-09","s":"10 meter","t":12.0},{"d":"2004-10-13","s":"10 meter","t":13.0},{"d":"2004-10-17","s":"10 meter","t":13.4},{"d":"2004-10-21","s":"10 meter","t":13.5},{"d":"2004-10-26","s":"10 meter","t":13.5},{"d":"2004-10-31","s":"10 meter","t":12.75},{"d":"2004-11-05","s":"10 meter","t":12.5},{"d":"2004-11-09","s":"10 meter","t":12.6},{"d":"2004-11-13","s":"10 meter","t":11.7},{"d":"2004-11-17","s":"10 meter","t":11.3},{"d":"2004-11-21","s":"10 meter","t":10.9},{"d":"2004-11-25","s":"10 meter","t":10.65},{"d":"2004-11-28","s":"10 meter","t":10.65},{"d":"2004-12-02","s":"10 meter","t":9.6},{"d":"2004-12-06","s":"10 meter","t":9.9},{"d":"2004-12-10","s":"10 meter","t":8.55},{"d":"2004-12-14","s":"10 meter","t":9.1},{"d":"2004-12-18","s":"10 meter","t":8.4},{"d":"2004-12-22","s":"10 meter","t":8.0},{"d":"2004-12-26","s":"10 meter","t":8.3},{"d":"2004-12-29","s":"10 meter","t":7.8},{"d":"2005-01-02","s":"10 meter","t":8.0},{"d":"2005-01-04","s":"10 meter","t":7.4}
]},
"encoding":{
"x":{"field":"d","type":"temporal","scale":{"type":"utc","nice":false,"padding":0,"domain":[{"year":2002,"month":11,"date":4,"utc":true},{"year":2005,"month":1,"date":4,"utc":true}]},
"axis":{"title":"Dato","titleFontSize":31,"titleFontWeight":"bold","titleColor":"black","titlePadding":20,"format":"%d.%m.%y","labelAngle":270,"labelFontSize":22,"labelColor":"black","labelPadding":4,"labelOverlap":false,"labelFlush":false,"grid":false,"domainColor":"black","domainWidth":2,"tickColor":"black","tickWidth":2,"tickSize":8,
"values":[{"year":2002,"month":11,"date":4,"utc":true},{"year":2002,"month":12,"date":4,"utc":true},{"year":2003,"month":1,"date":4,"utc":true},{"year":2003,"month":2,"date":4,"utc":true},{"year":2003,"month":3,"date":4,"utc":true},{"year":2003,"month":4,"date":4,"utc":true},{"year":2003,"month":5,"date":4,"utc":true},{"year":2003,"month":6,"date":4,"utc":true},{"year":2003,"month":7,"date":4,"utc":true},{"year":2003,"month":8,"date":4,"utc":true},{"year":2003,"month":9,"date":4,"utc":true},{"year":2003,"month":10,"date":4,"utc":true},{"year":2003,"month":11,"date":4,"utc":true},{"year":2003,"month":12,"date":4,"utc":true},{"year":2004,"month":1,"date":4,"utc":true},{"year":2004,"month":2,"date":4,"utc":true},{"year":2004,"month":3,"date":4,"utc":true},{"year":2004,"month":4,"date":4,"utc":true},{"year":2004,"month":5,"date":4,"utc":true},{"year":2004,"month":6,"date":4,"utc":true},{"year":2004,"month":7,"date":4,"utc":true},{"year":2004,"month":8,"date":4,"utc":true},{"year":2004,"month":9,"date":4,"utc":true},{"year":2004,"month":10,"date":4,"utc":true},{"year":2004,"month":11,"date":4,"utc":true},{"year":2004,"month":12,"date":4,"utc":true},{"year":2005,"month":1,"date":4,"utc":true}]}},
"y":{"field":"t","type":"quantitative","scale":{"domain":[0,24],"nice":false,"zero":false},
"axis":{"title":"Temperatur °C","titleFontSize":31.5,"titleFontWeight":"bold","titleColor":"black","titlePadding":17,"values":[0,3,6,9,12,15,18,21,24],"labelFontSize":32,"labelColor":"black","labelPadding":21,"grid":true,
"gridColor":{"condition":{"test":"datum.value == 24","value":"#A0A0A0"},"value":"#303030"},"gridWidth":3,"domainColor":"black","domainWidth":2,"tickColor":"black","tickWidth":2,"tickSize":8}},
"color":{"field":"s","type":"nominal","scale":{"domain":["2 meter","5 meter","10 meter"],"range":["#0000FF","#FFFF00","#FF0000"]},
"legend":{"title":null,"orient":"none","legendX":1150,"legendY":245,"symbolType":"stroke","symbolSize":1936,"symbolStrokeWidth":4,"symbolOffset":3,"labelFontSize":24.5,"labelColor":"black","labelOffset":4,"rowPadding":5,"padding":3,"strokeColor":"black","fillColor":"white","cornerRadius":0}}
},
"layer":[
{"transform":[{"filter":"datum.s == '2 meter'"}],"mark":{"type":"line","strokeWidth":3.5}},
{"transform":[{"filter":"datum.s == '5 meter'"}],"mark":{"type":"line","strokeWidth":3.5}},
{"transform":[{"filter":"datum.s == '10 meter'"}],"mark":{"type":"line","strokeWidth":3.5}}
]
}
